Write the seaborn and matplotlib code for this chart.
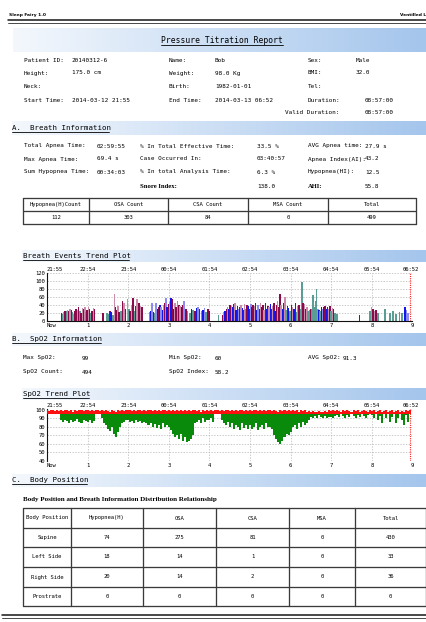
import numpy as np
import matplotlib
matplotlib.use("Agg")
import matplotlib.pyplot as plt
import seaborn as sns
from matplotlib.colors import LinearSegmentedColormap

# ---------------- report data ----------------
patient_rows = [
    [("Patient ID:", 24), ("20140312-6", 72), ("Name:", 169), ("Bob", 215), ("Sex:", 308), ("Male", 356)],
    [("Height:", 24), ("175.0 cm", 72), ("Weight:", 169), ("98.0 Kg", 215), ("BMI:", 308), ("32.0", 356)],
    [("Neck:", 24), ("Birth:", 169), ("1982-01-01", 215), ("Tel:", 308)],
    [("Start Time:", 24), ("2014-03-12 21:55", 72), ("End Time:", 169), ("2014-03-13 06:52", 215),
     ("Duration:", 308), ("08:57:00", 365)],
    [("Valid Duration:", 285), ("08:57:00", 365)],
]
breath_rows = [
    [("Total Apnea Time:", 24), ("02:59:55", 97), ("% In Total Effective Time:", 140), ("33.5 %", 257),
     ("AVG Apnea time:", 308), ("27.9 s", 365)],
    [("Max Apnea Time:", 24), ("69.4 s", 97), ("Case Occurred In:", 140), ("03:40:57", 257),
     ("Apnea Index(AI):", 308), ("43.2", 365)],
    [("Sum Hypopnea Time:", 24), ("00:34:03", 97), ("% In total Analysis Time:", 140), ("6.3 %", 257),
     ("Hypopnea(HI):", 308), ("12.5", 365)],
]
snore_row = [("Snore Index:", 140, True), ("138.0", 257, False), ("AHI:", 308, True), ("55.8", 365, False)]
spo2_rows = [
    [("Max SpO2:", 23), ("99", 82), ("Min SpO2:", 169), ("60", 215), ("AVG SpO2:", 308), ("91.3", 343)],
    [("SpO2 Count:", 23), ("494", 82), ("SpO2 Index:", 169), ("58.2", 215)],
]

count_headers = ["Hypopnea(H)Count", "OSA Count", "CSA Count", "MSA Count", "Total"]
count_values = ["112", "303", "84", "0", "499"]

pos_headers = ["Body Position", "Hypopnea(H)", "OSA", "CSA", "MSA", "Total"]
pos_names = ["Supine", "Left Side", "Right Side", "Prostrate"]
pos_hypopnea = [74, 18, 20, 0]
pos_osa = [275, 14, 14, 0]
pos_csa = [81, 1, 2, 0]
pos_msa = [0, 0, 0, 0]
pos_total = [430, 33, 36, 0]

hour_ticks = [0, 1, 2, 3, 4, 5, 6, 7, 8, 9]
hour_labels = ["Now", "1", "2", "3", "4", "5", "6", "7", "8", "9"]
clock_ticks = [0, 1, 2, 3, 4, 5, 6, 7, 8, 8.95]
clock_labels = ["21:55", "22:54", "23:54", "00:54", "01:54", "02:54", "03:54", "04:54", "05:54", "06:52"]
end_hour = 8.95

# breath events: time (h), length (s), kind
event_hour = [
    0.36, 0.39, 0.42, 0.45, 0.48, 0.51, 0.54, 0.57, 0.60, 0.63, 0.66, 0.69, 0.72, 0.75,
    0.78, 0.81, 0.84, 0.87, 0.90, 0.93, 0.96, 0.99, 1.02, 1.05, 1.08, 1.11, 1.14, 1.17,
    1.38, 1.48, 1.52, 1.55, 1.58, 1.62, 1.66, 1.69, 1.72, 1.75, 1.78, 1.82, 1.86, 1.90,
    1.93, 1.98, 2.02, 2.05, 2.08, 2.12, 2.15, 2.18, 2.22, 2.26, 2.30, 2.34,
    2.52, 2.55, 2.58, 2.62, 2.65, 2.68, 2.72, 2.75, 2.78, 2.81, 2.84, 2.87, 2.90, 2.93,
    2.96, 3.00, 3.03, 3.06, 3.09, 3.12, 3.15, 3.18, 3.21, 3.25, 3.28, 3.31, 3.34, 3.38,
    3.42, 3.46, 3.52, 3.56, 3.60, 3.64, 3.68, 3.72, 3.76, 3.80, 3.84, 3.88, 3.92, 3.96,
    4.00, 4.22,
    4.33, 4.36, 4.39, 4.42, 4.45, 4.48, 4.51, 4.54, 4.57, 4.60, 4.63, 4.66, 4.69, 4.72,
    4.75, 4.78, 4.81, 4.84, 4.87, 4.90, 4.93, 4.96, 4.99, 5.02, 5.05, 5.08, 5.11, 5.14,
    5.17, 5.20, 5.23, 5.26, 5.29, 5.32, 5.35, 5.38, 5.41, 5.44, 5.47, 5.50, 5.53, 5.56,
    5.59, 5.62, 5.65, 5.68, 5.71, 5.74, 5.77, 5.80, 5.83, 5.86, 5.89, 5.92, 5.95, 5.98,
    6.02, 6.05, 6.08, 6.12, 6.15, 6.18, 6.21, 6.25, 6.28, 6.31, 6.34, 6.37, 6.40, 6.43,
    6.46, 6.49, 6.52, 6.55, 6.58, 6.61, 6.64, 6.67, 6.70, 6.73, 6.76, 6.79, 6.82, 6.85,
    6.88, 6.91, 6.94, 6.97, 7.00, 7.03, 7.06, 7.10, 7.14,
    7.70, 7.95, 7.99, 8.03, 8.07, 8.11, 8.15, 8.33, 8.45, 8.52, 8.60, 8.68, 8.75, 8.82,
    8.85, 8.89,
]
event_sec = [
    20, 18, 22, 25, 24, 28, 25, 30, 27, 22, 18, 25, 30, 28,
    35, 26, 20, 32, 30, 34, 22, 28, 35, 30, 20, 25, 33, 30,
    20, 20, 18, 25, 22, 15, 68, 35, 28, 38, 22, 25, 50, 45,
    30, 55, 30, 25, 40, 58, 25, 38, 55, 45, 38, 35,
    22, 25, 45, 22, 20, 45, 30, 35, 40, 35, 28, 40, 45, 58,
    35, 42, 48, 58, 55, 30, 45, 35, 50, 40, 38, 35, 40, 50,
    30, 25, 20, 30, 28, 25, 32, 35, 30, 25, 28, 32, 22, 30,
    25, 15,
    15, 22, 25, 30, 35, 30, 40, 38, 35, 42, 45, 28, 38, 30,
    35, 40, 32, 28, 42, 30, 40, 38, 30, 42, 35, 40, 38, 45,
    28, 40, 30, 45, 35, 40, 28, 45, 30, 38, 35, 42, 30, 38,
    45, 25, 40, 50, 35, 68, 40, 30, 45, 60, 28, 38, 32, 25,
    40, 35, 30, 45, 22, 38, 40, 30, 98, 45, 42, 30, 35, 25,
    28, 30, 30, 65, 35, 50, 80, 30, 28, 25, 35, 30, 35, 38,
    30, 35, 30, 38, 25, 32, 30, 20, 18,
    16, 25, 35, 30, 25, 28, 20, 31, 20, 25, 18, 22, 20, 35,
    28, 20,
]
# m = maroon, p = pink, t = teal, b = blue, l = light blue
event_kind = list(
    "mtpmtpmpmtpmmp"
    "mtmpmptmpmtmpm"
    "mttmbtpmmpmtmp"
    "mptmpmtmpmpm"
    "tblbtlbmblbpml"
    "bmpbmbpmlmpbml"
    "mttbtmblmtbltm"
    "bt"
    "mpbmlbmpbmpbml"
    "mpbmptmbmlbmpm"
    "blmpbmpmbmpbmp"
    "mbmpmmpbmptmbt"
    "mpbmtpmttmpmpt"
    "tmtttttlbtblbm"
    "bmpmtpmtt"
    "mtpmpmtttttttb"
    "ll"
)
assert len(event_hour) == len(event_sec) == len(event_kind)

# SpO2 trend: 0.05 h bins, lowest (green) and highest (red) value per bin
spo2_step = 0.05
spo2_low = [
    97, 97, 95, 97, 96, 97, 95, 88, 86, 88, 87, 85, 88, 86, 87, 89, 86, 85, 88, 87,
    86, 88, 85, 87, 97, 97, 97, 90, 85, 82, 78, 75, 80, 72, 68, 74, 80, 84, 86, 88,
    88, 86, 87, 85, 88, 86, 87, 84, 86, 85, 82, 84, 80, 83, 79, 82, 78, 84, 80, 82,
    80, 76, 72, 68, 70, 66, 72, 64, 68, 62, 64, 66, 70, 85, 86, 88, 85, 90, 86, 88,
    88, 90, 86, 97, 97, 97, 88, 85, 82, 86, 80, 84, 78, 82, 80, 76, 84, 79, 82, 78,
    82, 78, 80, 84, 76, 80, 82, 78, 84, 80, 80, 78, 70, 66, 62, 60, 64, 68, 72, 70,
    74, 80, 82, 78, 84, 80, 86, 82, 85, 88, 92, 90, 93, 91, 94, 92, 90, 93, 91, 92,
    92, 90, 93, 94, 92, 95, 93, 91, 94, 92, 95, 93, 90, 94, 92, 95, 93, 91, 94, 96,
    94, 90, 96, 88, 93, 85, 95, 90, 96, 86, 92, 95, 84, 90, 96, 88, 82, 94, 86, 97,
]
spo2_high = [
    100, 99, 100, 100, 99, 100, 99, 100, 99, 100, 100, 99, 100, 98, 100, 99, 100, 100, 99, 100,
    100, 99, 100, 99, 100, 100, 99, 100, 99, 100, 99, 98, 100, 99, 98, 100, 99, 100, 99, 100,
    100, 100, 99, 100, 99, 100, 100, 99, 100, 99, 100, 100, 99, 100, 99, 100, 99, 100, 100, 99,
    100, 99, 100, 99, 100, 99, 100, 99, 100, 99, 100, 99, 100, 100, 99, 100, 98, 100, 99, 100,
    99, 100, 99, 100, 100, 99, 100, 99, 100, 100, 99, 100, 99, 100, 99, 100, 100, 99, 100, 99,
    100, 99, 100, 100, 99, 100, 99, 100, 99, 100, 100, 99, 100, 99, 98, 100, 99, 100, 99, 100,
    99, 100, 99, 100, 98, 100, 99, 100, 98, 99, 97, 99, 98, 97, 99, 98, 97, 99, 98, 100,
    99, 100, 99, 100, 99, 98, 100, 99, 100, 99, 98, 100, 99, 100, 98, 99, 100, 99, 98, 100,
    99, 100, 98, 99, 100, 98, 99, 100, 98, 99, 100, 98, 99, 100, 98, 99, 97, 100, 99, 100,
]
spo2_split = 95.5

kind_colors = {"m": "#8a0b4c", "p": "#c98cab", "t": "#5a9d94", "b": "#1414ec", "l": "#8a8cf4"}

# ---------------- page setup ----------------
W, H = 427, 622
sns.set_theme(style="white")
plt.rcParams["font.family"] = ["DejaVu Sans Mono"]
plt.rcParams["text.color"] = "black"

fig = plt.figure(figsize=(W / 100, H / 100), dpi=100)
bg = fig.add_axes([0, 0, 1, 1])
bg.axis("off")

band_cmap = LinearSegmentedColormap.from_list("band", ["#f4f8fd", "#a4c5ec"])
grad = np.linspace(0, 1, 256).reshape(1, -1)


def banner(x0, y0, y1):
    bg.imshow(grad, cmap=band_cmap, extent=(x0, W, y1, y0), aspect="auto", zorder=0)


def heading(x, y, s, size):
    bg.text(x, y, s, fontsize=size, ha="left", va="center")
    w = len(s) * 0.602 * size * 100 / 72
    bg.plot([x, x + w], [y + size * 0.75, y + size * 0.75], color="black", lw=0.6)


def px(n):
    return n * 0.72


# page header
bg.text(9, 15, "Sleep Fairy 1.0", fontsize=3.2, family="DejaVu Sans", weight="bold", va="center")
bg.text(400, 15, "Ventilled Ltd", fontsize=3.2, family="DejaVu Sans", weight="bold", va="center")
bg.plot([8, W], [20.2, 20.2], color="#222222", lw=px(1.6))
bg.plot([8, W], [22.6, 22.6], color="#222222", lw=px(0.8))

# title
banner(13, 28, 52)
title = "Pressure Titration Report"
tsize = 5.8
tw = len(title) * 0.602 * tsize * 100 / 72
bg.text(222, 40.5, title, fontsize=tsize, ha="center", va="center")
bg.plot([222 - tw / 2, 222 + tw / 2], [45, 45], color="black", lw=0.6)

INFO = 4.3
for row, y in zip(patient_rows, [60, 73, 87, 100, 113]):
    for s, x in row:
        bg.text(x, y, s, fontsize=INFO, va="center")

# A. breath information
banner(12, 121, 135)
heading(12, 128, "A.  Breath Information", 5.3)
for row, y in zip(breath_rows, [146, 159, 172]):
    for s, x in row:
        bg.text(x, y, s, fontsize=INFO, va="center")
for s, x, b in snore_row:
    if b:
        bg.text(x, 186, s, fontsize=4.8, va="center", family="Liberation Serif", weight="bold")
    else:
        bg.text(x, 186, s, fontsize=INFO, va="center")


def grid_table(xs, ys, rows, size):
    for x in xs:
        bg.plot([x, x], [ys[0], ys[-1]], color="#3a3a3a", lw=px(1.3))
    for y in ys:
        bg.plot([xs[0], xs[-1]], [y, y], color="#3a3a3a", lw=px(1.3))
    for i, row in enumerate(rows):
        yc = (ys[i] + ys[i + 1]) / 2
        for j, val in enumerate(row):
            xc = (xs[j] + xs[j + 1]) / 2
            bg.text(xc, yc, val, ha="center", va="center", fontsize=size)


grid_table([23, 89, 168, 248, 328, 416], [198, 211, 223.5], [count_headers, count_values], 4.0)

# breath events trend plot
banner(22, 250, 262)
heading(23, 256, "Breath Events Trend Plot", 5.3)


def add_ax(x0, y0, x1, y1):
    return fig.add_axes([x0 / W, 1 - y1 / H, (x1 - x0) / W, (y1 - y0) / H])


def style_time_axis(ax):
    ax.set_xlim(0, 9)
    ax.set_xticks(hour_ticks, labels=hour_labels)
    ax.get_xticklabels()[0].set_ha("left")
    ax.tick_params(axis="both", labelsize=4, length=0, pad=1.2, colors="black")
    top = ax.secondary_xaxis("top")
    top.set_xticks(clock_ticks, labels=clock_labels)
    top.tick_params(labelsize=4, length=0, pad=0.8, colors="black")
    top.get_xticklabels()[0].set_ha("left")
    top.spines["top"].set_visible(False)
    ax.grid(True, color="#b5b5b5", ls=(0, (2, 2)), lw=0.5)
    ax.axvline(end_hour, color="#ff2020", ls=(0, (1, 1)), lw=0.8)
    for side in ["top", "right"]:
        ax.spines[side].set_visible(False)
    ax.spines["left"].set_color("#111111")
    ax.spines["left"].set_linewidth(0.8)


ax1 = add_ax(47, 273, 412.4, 321)
ax1.bar(event_hour, event_sec, width=0.038, color=[kind_colors[k] for k in event_kind],
        linewidth=0, zorder=2)
ax1.set_ylim(0, 120)
ax1.set_yticks([0, 20, 40, 60, 80, 100, 120])
style_time_axis(ax1)
ax1.spines["bottom"].set_color("#111111")
ax1.spines["bottom"].set_linewidth(0.8)

# B. SpO2 information
banner(12, 333, 346)
heading(12, 339, "B.  SpO2 Information", 5.3)
for row, y in zip(spo2_rows, [358, 372]):
    for s, x in row:
        bg.text(x, y, s, fontsize=INFO, va="center")

banner(22, 388, 400)
heading(23, 394, "SpO2 Trend Plot", 5.3)

ax2 = add_ax(47, 409, 412.4, 461)
spo2_hour = np.arange(len(spo2_low)) * spo2_step
low = np.minimum(np.array(spo2_low, dtype=float), spo2_split)
high = np.array(spo2_high, dtype=float)
ax2.bar(spo2_hour, spo2_split - low, bottom=low, width=spo2_step, color="#0a8a0a",
        linewidth=0, zorder=2)
ax2.bar(spo2_hour, np.maximum(high - spo2_split, 0), bottom=spo2_split, width=spo2_step,
        color="#ff1010", linewidth=0, zorder=3)
ax2.set_ylim(40, 101)
ax2.set_yticks([40, 50, 60, 70, 80, 90, 100])
style_time_axis(ax2)
ax2.spines["bottom"].set_visible(False)

# C. body position
banner(12, 474, 487)
heading(12, 480, "C.  Body Position", 5.3)
bg.text(23, 499, "Body Position and Breath Information Distribution Relationship",
        fontsize=5.0, family="Liberation Serif", weight="bold", va="center")
pos_rows = [pos_headers] + [
    [n, str(a), str(b), str(c), str(d), str(e)]
    for n, a, b, c, d, e in zip(pos_names, pos_hypopnea, pos_osa, pos_csa, pos_msa, pos_total)
]
grid_table([23, 71, 143, 216, 289, 355, 426.5], [508, 528, 547, 567, 587, 606], pos_rows, 4.0)

# footer
bg.plot([2, W], [615, 615], color="#222222", lw=px(1.6))
bg.plot([2, W], [617.5, 617.5], color="#222222", lw=px(0.8))

bg.set_xlim(0, W)
bg.set_ylim(H, 0)

fig.savefig("out.png", dpi=100)
